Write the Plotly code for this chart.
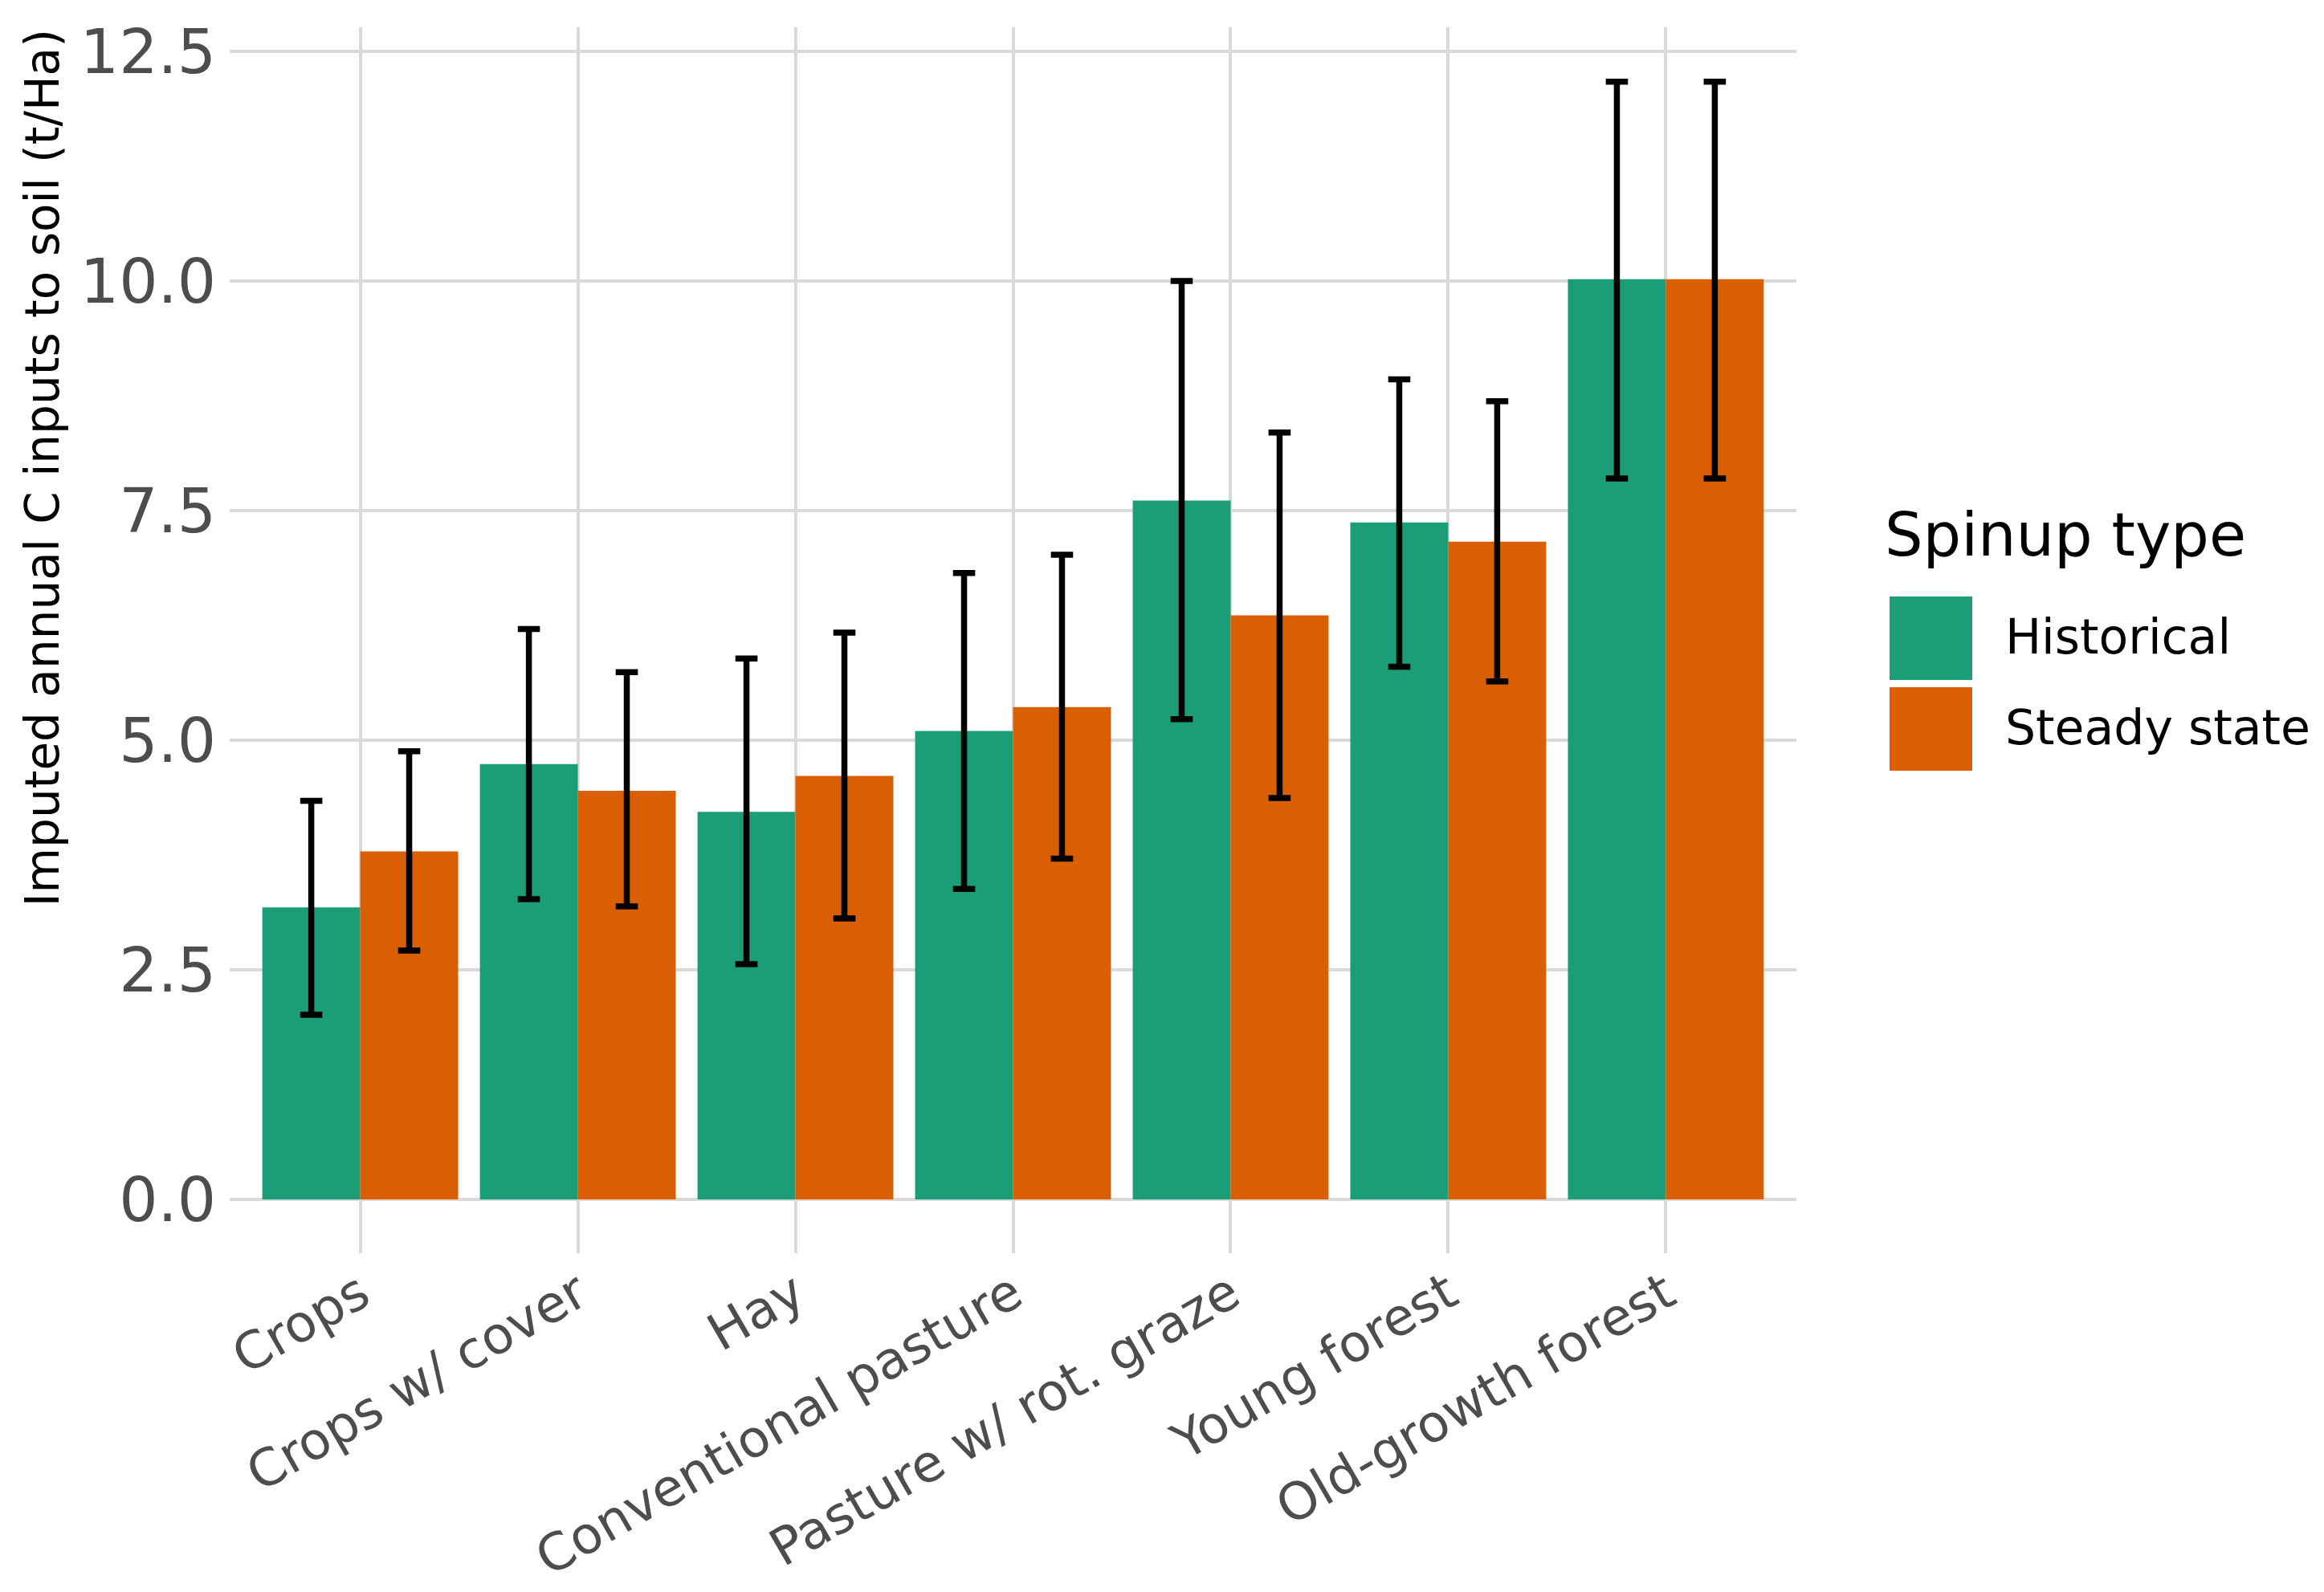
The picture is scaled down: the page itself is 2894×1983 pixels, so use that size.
import plotly.graph_objects as go

categories = ["Crops", "Crops w/ cover", "Hay", "Conventional pasture",
              "Pasture w/ rot. graze", "Young forest", "Old-growth forest"]
series_names = ["Historical", "Steady state"]

hist_mean = [3.18, 4.74, 4.22, 5.10, 7.61, 7.37, 10.02]
hist_lo = [2.01, 3.27, 2.56, 3.38, 5.23, 5.80, 7.85]
hist_hi = [4.34, 6.21, 5.89, 6.82, 10.00, 8.93, 12.17]

ss_mean = [3.79, 4.45, 4.61, 5.36, 6.36, 7.16, 10.02]
ss_lo = [2.71, 3.19, 3.06, 3.71, 4.37, 5.64, 7.85]
ss_hi = [4.88, 5.74, 6.17, 7.02, 8.35, 8.69, 12.17]

y_tickvals = [0, 2.5, 5, 7.5, 10, 12.5]
y_ticktext = ["0.0", "2.5", "5.0", "7.5", "10.0", "12.5"]

colors = ["#1B9E77", "#D95F02"]
FONT = "DejaVu Sans"

# page body has an 8px margin: shrink figure and offset coordinates
OFF = 8
W, H = 2894 - 2 * OFF, 1983 - 2 * OFF
L, R, T, B = 286 - OFF, 2237 - OFF, 34 - OFF, 1561 - OFF  # plot area (figure px)


def px_x(p):
    return (p - OFF - L) / (R - L)


def px_y(p):
    return (B - (p - OFF)) / (B - T)


fig = go.Figure()
for name, mean, lo, hi, col in [
    (series_names[0], hist_mean, hist_lo, hist_hi, colors[0]),
    (series_names[1], ss_mean, ss_lo, ss_hi, colors[1]),
]:
    fig.add_trace(go.Bar(
        x=categories, y=mean, name=name,
        marker=dict(color=col, line=dict(width=0)),
        error_y=dict(type="data", symmetric=False,
                     array=[h - m for h, m in zip(hi, mean)],
                     arrayminus=[m - l for m, l in zip(mean, lo)],
                     color="black", thickness=7.5, width=13.8),
        showlegend=False,
    ))

fig.update_layout(
    width=W, height=H,
    margin=dict(l=L, r=W - R, t=T, b=H - B, pad=0),
    paper_bgcolor="white", plot_bgcolor="white",
    barmode="group", bargap=0.1, bargroupgap=0,
    font=dict(family=FONT, color="black"),
    showlegend=False,
)
fig.update_xaxes(
    range=[-0.6, 6.6], showgrid=True, gridcolor="#D9D9D9", gridwidth=4,
    showline=False, zeroline=False, ticks="",
    tickangle=-30, tickfont=dict(family=FONT, size=64, color="#4D4D4D"),
    ticklabelstandoff=0, automargin=False,
)
fig.update_yaxes(
    range=[-0.586, 12.762], showgrid=True, gridcolor="#D9D9D9", gridwidth=4,
    showline=False, zeroline=False, ticks="",
    tickvals=y_tickvals, ticktext=y_ticktext,
    tickfont=dict(family=FONT, size=76, color="#4D4D4D"),
    ticklabelstandoff=16, automargin=False,
)

# y axis title (top-aligned, as in reference)
fig.add_annotation(
    text="Imputed annual C inputs to soil (t/Ha)", textangle=-90,
    xref="paper", yref="paper", x=px_x(52), y=px_y(35),
    xanchor="center", yanchor="top", showarrow=False,
    font=dict(family=FONT, size=58, color="black"),
)

# legend
fig.add_annotation(
    text="Spinup type", xref="paper", yref="paper",
    x=px_x(2345), y=px_y(666), xanchor="left", yanchor="middle",
    showarrow=False, font=dict(family=FONT, size=75, color="black"),
)
key_tops = [743, 856]
for i, (name, col) in enumerate(zip(series_names, colors)):
    top = key_tops[i]
    fig.add_shape(
        type="rect", xref="paper", yref="paper",
        x0=px_x(2353), x1=px_x(2456), y0=px_y(top), y1=px_y(top + 104),
        fillcolor=col, line=dict(width=0),
    )
    fig.add_annotation(
        text=name, xref="paper", yref="paper",
        x=px_x(2495), y=px_y(top + 50), xanchor="left", yanchor="middle",
        showarrow=False, font=dict(family=FONT, size=60, color="black"),
    )

fig.write_html("out.html")
